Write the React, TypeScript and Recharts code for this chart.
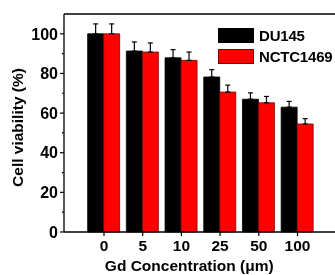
import {
  Bar,
  BarChart,
  ErrorBar,
  Label,
  Legend,
  ReferenceLine,
  XAxis,
  YAxis,
} from "recharts";

const concentrations = ["0", "5", "10", "25", "50", "100"];
const du145 = [100, 91.3, 87.9, 78.2, 67.0, 63.0];
const du145Err = [5, 4.6, 4.1, 3.7, 3.2, 2.9];
const nctc = [100, 90.8, 86.6, 70.6, 65.2, 54.5];
const nctcErr = [5, 4.6, 4.2, 3.5, 3.2, 2.7];
const yTicks = [0, 10, 20, 30, 40, 50, 60, 70, 80, 90, 100];

const FONT = '"Liberation Sans", Arial, sans-serif';

const data = concentrations.map((c, i) => ({
  conc: c,
  du145: du145[i],
  du145Err: [0, du145Err[i]],
  nctc: nctc[i],
  nctcErr: [0, nctcErr[i]],
}));

const series = [
  { key: "du145", err: "du145Err", name: "DU145", fill: "#000000", stroke: "#000000" },
  { key: "nctc", err: "nctcErr", name: "NCTC1469", fill: "#ff0000", stroke: "#7a0000" },
];

const YTick = ({ x, y, payload }: any) => {
  const major = payload.value % 20 === 0;
  return (
    <g>
      <line x1={x - (major ? 4 : 2)} x2={x} y1={y} y2={y} stroke="#000" strokeWidth={1.2} />
      {major && (
        <text
          x={x - 6}
          y={y}
          dy="0.36em"
          textAnchor="end"
          fontFamily={FONT}
          fontWeight="bold"
          fontSize={16}
          fill="#000"
        >
          {payload.value}
        </text>
      )}
    </g>
  );
};

const renderLegend = () => (
  <div style={{ fontFamily: FONT, fontWeight: "bold", fontSize: 15 }}>
    {series.map((s) => (
      <div key={s.key} style={{ display: "flex", alignItems: "center", height: 21 }}>
        <span
          style={{
            display: "inline-block",
            width: 34,
            height: 13,
            background: s.fill,
            border: `1px solid ${s.stroke}`,
            marginRight: 5,
          }}
        />
        <span style={{ whiteSpace: "nowrap", letterSpacing: -0.2 }}>{s.name}</span>
      </div>
    ))}
  </div>
);

const App = () => (
  <div
    style={{
      position: "fixed",
      left: 0,
      top: 0,
      width: 335,
      height: 275,
      overflow: "hidden",
    }}
  >
    <BarChart
      width={345}
      height={275}
      data={data}
      margin={{ top: 14, right: 7.5, bottom: 0, left: 0 }}
      barSize={16}
      barGap={0}
    >
      <XAxis
        dataKey="conc"
        height={43}
        padding={{ left: 20.65, right: 20.65 }}
        axisLine={{ stroke: "#000", strokeWidth: 1.3 }}
        tickLine={{ stroke: "#000", strokeWidth: 1.2 }}
        tickSize={4}
        tickMargin={4}
        tick={{ fill: "#000", fontFamily: FONT, fontWeight: "bold", fontSize: 15.5 }}
        interval={0}
      >
        <Label
          content={({ viewBox }: any) => (
            <text
              x={viewBox.x + viewBox.width / 2 - 11.5}
              y={271}
              textAnchor="middle"
              fontFamily={FONT}
              fontWeight="bold"
              fontSize={15.5}
              fill="#000"
            >
              Gd Concentration (μm)
            </text>
          )}
        />
      </XAxis>
      <YAxis
        width={64}
        domain={[0, 110]}
        ticks={yTicks}
        interval={0}
        axisLine={{ stroke: "#000", strokeWidth: 1.3 }}
        tickLine={false}
        tickSize={0}
        tickMargin={0}
        tick={<YTick />}
      >
        <Label
          content={({ viewBox }: any) => {
            const cx = viewBox.x + 23;
            const cy = viewBox.y + viewBox.height / 2 + 4.5;
            return (
              <text
                x={cx}
                y={cy}
                transform={`rotate(-90 ${cx} ${cy})`}
                textAnchor="middle"
                fontFamily={FONT}
                fontWeight="bold"
                fontSize={15.5}
                fill="#000"
              >
                Cell viability (%)
              </text>
            );
          }}
        />
      </YAxis>
      <ReferenceLine y={110} stroke="#000" strokeWidth={1.3} ifOverflow="visible" />
      <Legend
        layout="vertical"
        verticalAlign="middle"
        align="center"
        wrapperStyle={{ top: 25, left: 218, width: "auto" }}
        content={renderLegend}
      />
      {series.map((s) => (
        <Bar
          key={s.key}
          dataKey={s.key}
          name={s.name}
          fill={s.fill}
          stroke={s.stroke}
          strokeWidth={0.8}
          isAnimationActive={false}
        >
          <ErrorBar
            dataKey={s.err}
            direction="y"
            width={2.5}
            stroke="#000"
            strokeWidth={1.2}
            isAnimationActive={false}
          />
        </Bar>
      ))}
    </BarChart>
  </div>
);

export default App;
